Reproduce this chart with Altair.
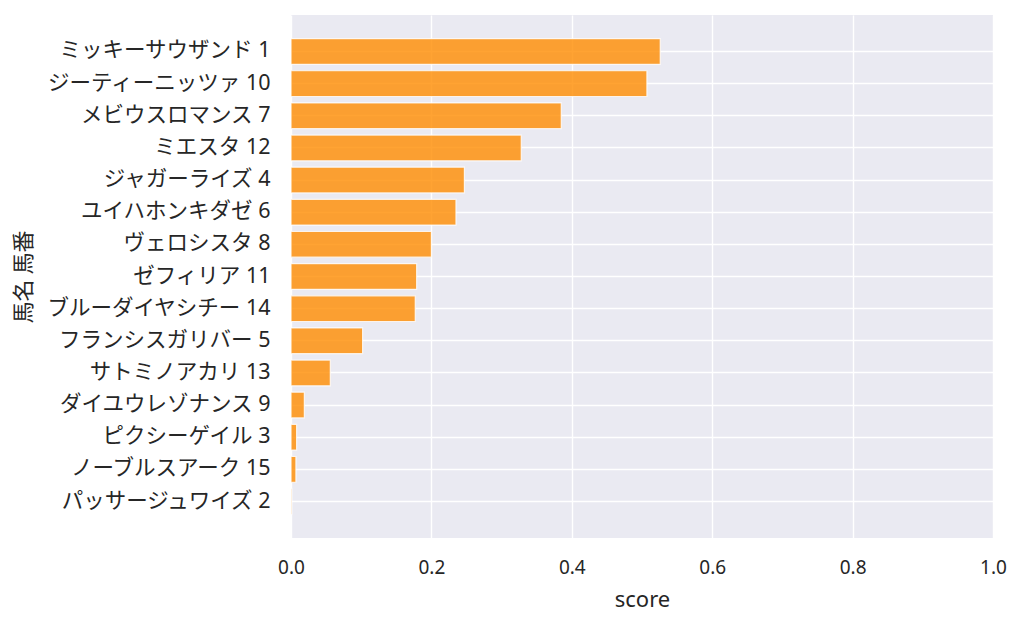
import altair as alt
import pandas as pd

names = [
    "ミッキーサウザンド 1", "ジーティーニッツァ 10", "メビウスロマンス 7", "ミエスタ 12",
    "ジャガーライズ 4", "ユイハホンキダゼ 6", "ヴェロシスタ 8", "ゼフィリア 11",
    "ブルーダイヤシチー 14", "フランシスガリバー 5", "サトミノアカリ 13",
    "ダイユウレゾナンス 9", "ピクシーゲイル 3", "ノーブルスアーク 15", "パッサージュワイズ 2",
]
scores = [0.526, 0.507, 0.385, 0.328, 0.247, 0.235, 0.200, 0.179, 0.177,
          0.102, 0.056, 0.019, 0.008, 0.007, 0.001]
x_ticks = [0, 0.2, 0.4, 0.6, 0.8, 1.0]

df = pd.DataFrame({"name": names, "score": scores})

LATIN = "Noto Sans"
MIXED = "Noto Sans, Noto Sans CJK JP"
CJK = "Noto Sans CJK JP"

chart = alt.Chart(df).mark_bar(
    color="#ff8c00", fillOpacity=0.8, stroke="white", strokeWidth=1.2, strokeOpacity=0.8
).encode(
    x=alt.X("score:Q", title="score",
            scale=alt.Scale(domain=[0, 1], nice=False, zero=True),
            axis=alt.Axis(values=x_ticks, format=".1f", labelFlush=False,
                          labelFont=LATIN, labelFontSize=19,
                          titleFont=LATIN, titleFontSize=22,
                          labelPadding=20, titlePadding=12)),
    y=alt.Y("name:N", title="馬名 馬番", sort=names,
            scale=alt.Scale(paddingInner=0.2, paddingOuter=0.735),
            axis=alt.Axis(labelPadding=21, bandPosition=0.5,
                          labelFont=MIXED, labelFontSize=21.5,
                          titleFont=CJK, titleFontSize=22,
                          titleX=-256, titleY=261.5, titleAngle=270,
                          titleAlign="center", titleBaseline="bottom")),
).properties(
    width=702, height=523, padding={"left": 4, "top": 7, "right": 5, "bottom": 5}
).configure(
    background="white"
).configure_view(
    fill="#EAEAF2", stroke=None
).configure_axis(
    grid=True, gridColor="white", gridWidth=1.4, gridOpacity=1,
    domain=False, ticks=False, tickSize=0,
    labelColor="#262626", titleColor="#262626", titleFontWeight="normal",
    labelLimit=400,
)

chart.save("out.html", embed_options={"renderer": "svg", "actions": False})
